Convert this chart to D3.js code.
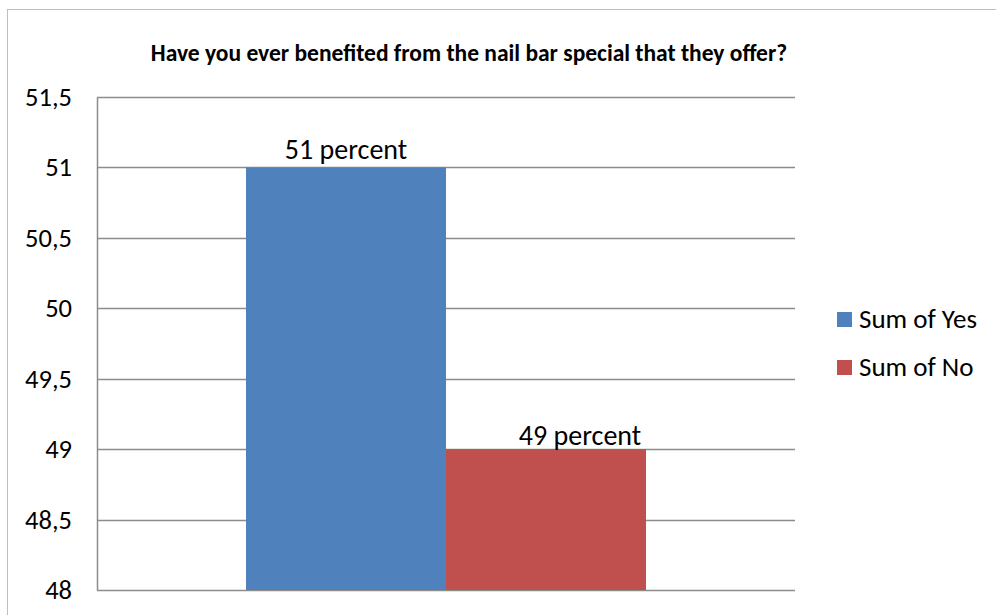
<!DOCTYPE html>
<html>
<head>
<meta charset="utf-8">
<script src="https://cdn.jsdelivr.net/npm/d3@7"></script>
<style>
  html, body { margin: 0; padding: 0; background: #fff; }
  svg { display: block; font-family: Carlito, Lato, "Open Sans", sans-serif; }
</style>
</head>
<body>
<svg id="chart" width="996" height="615"></svg>
<script>
// Survey result: share of respondents who used the nail bar special
const chartTitle = "Have you ever benefited from the nail bar special that they offer?";
const seriesNames = ["Sum of Yes", "Sum of No"];
const seriesValues = [51, 49];
const seriesColors = ["#4F81BD", "#C0504D"];
const valueLabels = ["51 percent", "49 percent"];
const yTicks = [48, 48.5, 49, 49.5, 50, 50.5, 51, 51.5];

const svg = d3.select("#chart");
const plot = { left: 97, right: 795, top: 97, bottom: 590 };

// outer chart frame
svg.append("rect")
  .attr("x", 7.5).attr("y", 9.5)
  .attr("width", 1000).attr("height", 620)
  .attr("fill", "#fff").attr("stroke", "#bfbfbf").attr("stroke-width", 1);

const y = d3.scaleLinear().domain([48, 51.5]).range([plot.bottom, plot.top]);
const x = d3.scaleBand().domain(seriesNames)
  .range([246, 646]).paddingInner(0).paddingOuter(0);

// horizontal gridlines
svg.append("g").selectAll("line").data(yTicks).join("line")
  .attr("x1", plot.left).attr("x2", plot.right)
  .attr("y1", d => Math.round(y(d)) + 0.5).attr("y2", d => Math.round(y(d)) + 0.5)
  .attr("stroke", "#8c8c8c").attr("stroke-width", 1.5);

// value axis
const fmt = d => String(d).replace(".", ",");
const yAxis = d3.axisLeft(y).tickValues(yTicks).tickFormat(fmt).tickSize(0).tickPadding(25);
const gy = svg.append("g").attr("transform", `translate(${plot.left},0)`).call(yAxis);
gy.select(".domain").attr("stroke", "#8c8c8c").attr("stroke-width", 1.5);
gy.selectAll("text")
  .attr("font-size", 26.5).attr("fill", "#000")
  .style("font-family", "Carlito, Lato, sans-serif");

// bars
svg.append("g").selectAll("rect").data(seriesValues).join("rect")
  .attr("x", (d, i) => x(seriesNames[i]))
  .attr("width", x.bandwidth())
  .attr("y", d => y(d))
  .attr("height", d => y(48) - y(d))
  .attr("fill", (d, i) => seriesColors[i]);

// value labels (the second one sits a little right of its bar centre, and lower)
const labelShift = [[0, -8], [34, -4]];
svg.append("g").selectAll("text").data(seriesValues).join("text")
  .attr("x", (d, i) => x(seriesNames[i]) + x.bandwidth() / 2 + labelShift[i][0])
  .attr("y", (d, i) => y(d) + labelShift[i][1])
  .attr("text-anchor", "middle")
  .attr("font-size", 28).attr("fill", "#000")
  .text((d, i) => valueLabels[i]);

// title
svg.append("text")
  .attr("x", 469).attr("y", 61)
  .attr("text-anchor", "middle")
  .attr("font-size", 23.5).attr("font-weight", "bold").attr("fill", "#000")
  .text(chartTitle);

// legend
const legend = svg.append("g").selectAll("g").data(seriesNames).join("g")
  .attr("transform", (d, i) => `translate(837,${312 + i * 48})`);
legend.append("rect").attr("width", 15).attr("height", 15)
  .attr("fill", (d, i) => seriesColors[i]);
legend.append("text").attr("x", 22).attr("y", 16)
  .attr("font-size", 27).attr("fill", "#000")
  .text(d => d);
</script>
</body>
</html>
